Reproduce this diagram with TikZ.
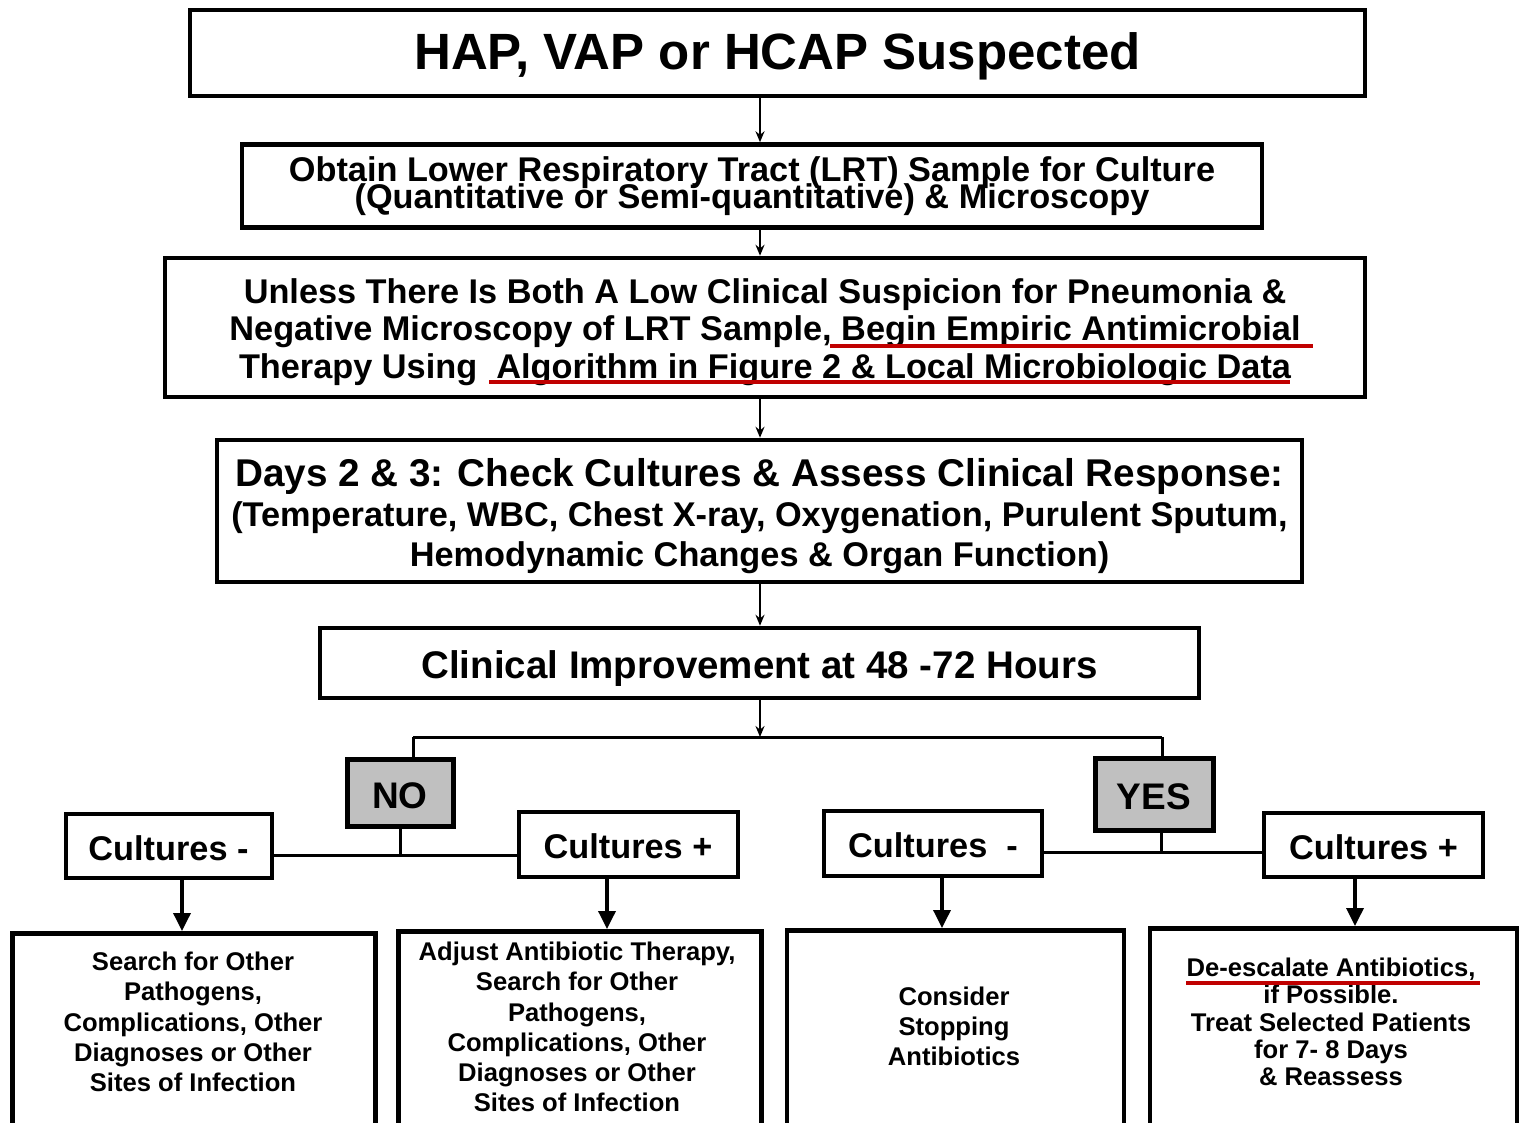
\documentclass[tikz,border=0pt]{standalone}
\usepackage{fontspec}
\setmainfont{Liberation Sans}
\usetikzlibrary{arrows.meta,calc}
\definecolor{ulred}{HTML}{C00000}
\definecolor{boxgray}{HTML}{C0C0C0}
\newcommand\mytight{\lineskiplimit-50pt\relax\lineskip0pt\relax}
\newcommand\pushdown[1]{\rule{0pt}{#1}}
\begin{document}
\begin{tikzpicture}[x=1pt,y=-1pt,
  box/.style={draw, line width=4pt, inner sep=0pt, align=center},
  bigbox/.style={box, line width=4.5pt},
  grayb/.style={box, line width=5pt, fill=boxgray, font=\fontsize{37}{37}\selectfont\bfseries},
  culture/.style={box, line width=4pt, font=\fontsize{34.3}{34.3}\selectfont\bfseries},
  bottombox/.style={draw, line width=4.5pt, inner sep=0pt, anchor=north},
  btext/.style={align=center, inner sep=0pt, font=\fontsize{25.6}{30.2}\selectfont\bfseries\mytight},
  toparrow/.style={line width=2pt, -{Stealth[length=11pt,width=9pt]}},
  branch/.style={line width=3pt},
  botarrow/.style={line width=3.5pt, -{Triangle[length=18pt,width=17pt]}},
  ul/.style={draw=ulred, line width=4pt}
]
\useasboundingbox (0,0) rectangle (1520,1122);
\fill[white] (0,0) rectangle (1520,1122);
\clip (0,0) rectangle (1520,1122);

% main column
\node[box, minimum width=1175pt, minimum height=86pt,
      font=\fontsize{51}{51}\selectfont\bfseries] (b1) at (777.5,53) {\pushdown{43pt}HAP, VAP or HCAP Suspected};
\node[bigbox, minimum width=1020pt, minimum height=83pt,
      font=\fontsize{34.3}{27}\selectfont\bfseries\mytight] (b2) at (752,186)
  {Obtain Lower Respiratory Tract (LRT) Sample for Culture\\(Quantitative or Semi-quantitative) \& Microscopy};
\node[bigbox, minimum width=1200pt, minimum height=139pt,
      font=\fontsize{34.3}{37.5}\selectfont\bfseries\mytight] (b3) at (765,327.5)
  {\pushdown{34pt}Unless There Is Both A Low Clinical Suspicion for Pneumonia \&\\Negative Microscopy of LRT Sample, Begin Empiric Antimicrobial\\Therapy Using\ \ Algorithm in Figure 2 \& Local Microbiologic Data};
\node[bigbox, minimum width=1085pt, minimum height=142pt,
      font=\fontsize{34.3}{40}\selectfont\bfseries\mytight] (b4) at (759.5,511)
  {{\fontsize{38.7}{40}\selectfont\pushdown{37.5pt}Days 2 \& 3: Check Cultures \& Assess Clinical Response:}\\(Temperature, WBC, Chest X-ray, Oxygenation, Purulent Sputum,\\Hemodynamic Changes \& Organ Function)};
\node[bigbox, minimum width=879pt, minimum height=70pt,
      font=\fontsize{38.5}{38.5}\selectfont\bfseries] (b5) at (759.5,663) {\pushdown{38pt}Clinical Improvement at 48 -72 Hours};

% decision boxes
\node[grayb, minimum width=106pt, minimum height=67pt] (no) at (400,792.5) {\pushdown{32pt}NO};
\node[grayb, minimum width=118pt, minimum height=72pt] (yes) at (1154,794) {\pushdown{32pt}YES};

% culture boxes
\node[culture, minimum width=206pt, minimum height=64pt] (cn1) at (168.5,846) {\pushdown{29pt}Cultures -};
\node[culture, minimum width=219pt, minimum height=65pt] (cn2) at (628,844.5) {\pushdown{29pt}Cultures +};
\node[culture, minimum width=218pt, minimum height=65pt] (cy1) at (933,843.5) {\pushdown{29pt}Cultures\ \ -};
\node[culture, minimum width=219pt, minimum height=64pt] (cy2) at (1373.5,845) {\pushdown{29pt}Cultures +};

% bottom boxes
\node[bottombox, minimum width=363pt, minimum height=240pt] (bb1) at (194,931) {};
\node[bottombox, minimum width=363pt, minimum height=240pt] (bb2) at (580,929) {};
\node[bottombox, minimum width=337pt, minimum height=240pt] (bb3) at (955.5,928) {};
\node[bottombox, minimum width=367pt, minimum height=240pt] (bb4) at (1333.5,926) {};

\node[btext] (t1) at (193,1022) {Search for Other\\Pathogens,\\Complications, Other\\Diagnoses or Other\\Sites of Infection};
\node[btext] (t2) at (577,1027) {Adjust Antibiotic Therapy,\\Search for Other\\Pathogens,\\Complications, Other\\Diagnoses or Other\\Sites of Infection};
\node[btext] (t3) at (954,1026.5) {Consider\\Stopping\\Antibiotics};
\node[btext, font=\fontsize{25.6}{27.3}\selectfont\bfseries\mytight] (t4) at (1331,1022) {De-escalate Antibiotics,\\if Possible.\\Treat Selected Patients\\for 7- 8 Days\\\& Reassess};

% connector coordinates
\coordinate (xm) at (760,0);
\coordinate (jc) at (760,737);
\coordinate (jno) at (413,737);
\coordinate (jyes) at (1162,737);
\coordinate (nostem) at (400,855);
\coordinate (yesstem) at (1161,852);
\coordinate (a1) at (182,0);
\coordinate (a2) at (607,0);
\coordinate (a3) at (942,0);
\coordinate (a4) at (1355,0);

% main arrows
\draw[toparrow] (b1.south -| xm) -- (b2.north -| xm);
\draw[toparrow] (b2.south -| xm) -- (b3.north -| xm);
\draw[toparrow] (b3.south -| xm) -- (b4.north -| xm);
\draw[toparrow] (b4.south -| xm) -- (b5.north -| xm);
\draw[toparrow] (b5.south -| xm) -- (jc);

% branches
\draw[branch] (jno) -- (jyes);
\draw[branch] (jno) -- (no.north -| jno);
\draw[branch] (jyes) -- (yes.north -| jyes);
\draw[branch] (no.south -| nostem) -- (nostem);
\draw[branch] (cn1.east |- nostem) -- (cn2.west |- nostem);
\draw[branch] (yes.south -| yesstem) -- (yesstem);
\draw[branch] (cy1.east |- yesstem) -- (cy2.west |- yesstem);

% bottom arrows
\draw[botarrow] (cn1.south -| a1) -- (bb1.north -| a1);
\draw[botarrow] (cn2.south -| a2) -- (bb2.north -| a2);
\draw[botarrow] (cy1.south -| a3) -- (bb3.north -| a3);
\draw[botarrow] (cy2.south -| a4) -- (bb4.north -| a4);

% red underlines
\draw[ul] (830,346) -- (1313,346);
\draw[ul] (489,381.5) -- (1290,381.5);
\draw[ul] (1186,983) -- (1480,983);
\end{tikzpicture}
\end{document}
